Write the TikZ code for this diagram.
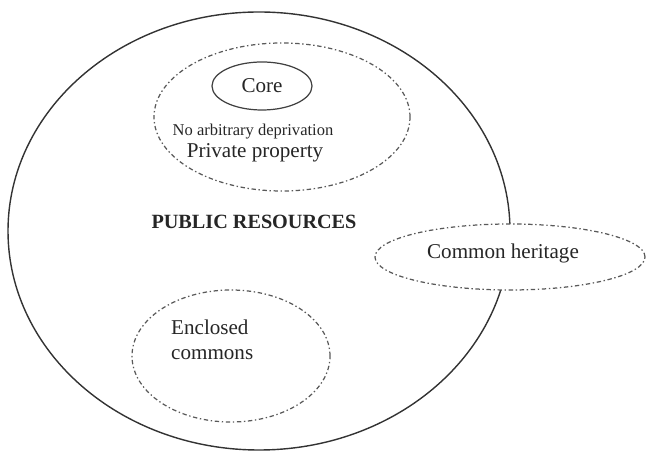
\documentclass[tikz,border=0pt]{standalone}
\usepackage{fontspec}
\setmainfont{Liberation Serif}
\usetikzlibrary{shapes.geometric}
\usetikzlibrary{positioning}
\tikzset{
    bigring/.style = {ellipse, draw=black!80, line width=0.8pt, inner sep=0},
    ringd/.style = {ellipse, draw=black!65, line width=0.7pt, inner sep=0, dash pattern=on 2.5pt off 1.5pt on 0.8pt off 1.5pt},
    ringc/.style = {ellipse, draw=black!75, line width=0.7pt, inner sep=0},
    lbl/.style = {font=\fontsize{12}{14}\selectfont, text=black!85},
    lbls/.style = {font=\fontsize{9.4}{11}\selectfont, text=black!85},
    lblb/.style = {font=\fontsize{11.5}{13}\selectfont\bfseries, text=black!85}
}
\begin{document}
\begin{tikzpicture}
\useasboundingbox (0,0) rectangle (12.94,9.10);

% public resources
\node[bigring, minimum width=10.04cm, minimum height=8.76cm] at (5.18, 4.48) (pub) {};
\node[lblb] at (5.08, 4.66) (publbl) {PUBLIC RESOURCES};

% private property
\node[ringd, minimum width=5.12cm, minimum height=2.96cm] at (5.64, 6.76) (priv) {};
\node[ringc, minimum width=2.00cm, minimum height=0.96cm, lbl] at (5.24, 7.38) (core) {Core};
\node[lbls] at (5.06, 6.46) (noarb) {No arbitrary deprivation};
\node[lbl] at (5.10, 6.04) (privlbl) {Private property};

% common heritage
\node[ringd, fill=white, minimum width=5.40cm, minimum height=1.32cm] at (10.20, 3.96) (herit) {};
\node[lbl] at (10.06, 4.04) (heritlbl) {Common heritage};

% enclosed commons
\node[ringd, minimum width=3.96cm, minimum height=2.64cm] at (4.62, 1.98) (encl) {};
\node[lbl, anchor=west, align=left, font=\fontsize{12}{14.5}\selectfont] at (3.30, 2.30) (encllbl) {Enclosed\\commons};

\end{tikzpicture}
\end{document}
